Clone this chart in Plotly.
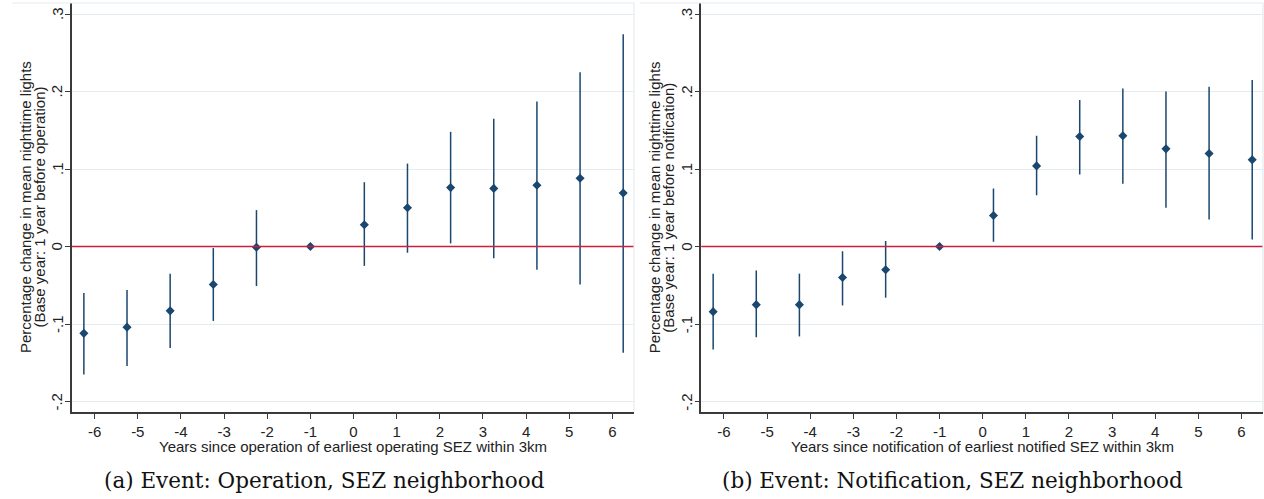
import plotly.graph_objects as go

# Event-time positions (coefficients are drawn slightly offset from each tick)
event_x = [-6.25, -5.25, -4.25, -3.25, -2.25, -1, 0.25, 1.25, 2.25, 3.25, 4.25, 5.25, 6.25]

# (a) Operation event
op_coef = [-0.112, -0.104, -0.083, -0.049, -0.001, 0.0, 0.028, 0.050, 0.076, 0.075, 0.079, 0.088, 0.069]
op_lo = [-0.165, -0.154, -0.131, -0.096, -0.051, 0.0, -0.025, -0.008, 0.004, -0.015, -0.030, -0.049, -0.137]
op_hi = [-0.060, -0.056, -0.035, -0.002, 0.047, 0.0, 0.083, 0.107, 0.148, 0.165, 0.187, 0.225, 0.274]

# (b) Notification event
nt_coef = [-0.084, -0.075, -0.075, -0.040, -0.030, 0.0, 0.040, 0.104, 0.142, 0.143, 0.126, 0.120, 0.112]
nt_lo = [-0.133, -0.117, -0.116, -0.076, -0.066, 0.0, 0.006, 0.066, 0.093, 0.081, 0.050, 0.035, 0.009]
nt_hi = [-0.035, -0.031, -0.035, -0.006, 0.007, 0.0, 0.075, 0.143, 0.189, 0.204, 0.200, 0.206, 0.215]

x_ticks = [-6, -5, -4, -3, -2, -1, 0, 1, 2, 3, 4, 5, 6]
x_tick_text = ["-6", "-5", "-4", "-3", "-2", "-1", "0", "1", "2", "3", "4", "5", "6"]
y_ticks = [0.3, 0.2, 0.1, 0.0, -0.1, -0.2]
y_tick_text = [".3", ".2", ".1", "0", "-.1", "-.2"]

x_titles = [
    "Years since operation of earliest operating SEZ within 3km",
    "Years since notification of earliest notified SEZ within 3km",
]
y_title_line1 = "Percentage change in mean nighttime lights"
y_title_line2 = [
    "(Base year: 1 year before operation)",
    "(Base year: 1 year before notification)",
]
captions = [
    "(a) Event: Operation, SEZ neighborhood",
    "(b) Event: Notification, SEZ neighborhood",
]

W, H = 1264, 499
NAVY = "#1a476f"
GRID = "#e4ecef"
AXIS = "#3a3a3a"
ZERO = "#cc1f3d"
TEXT = "#222"
FONT = "Liberation Sans, Arial, sans-serif"
FS = 15

# plot-area pixel geometry
px_left = [(72, 634), (701.3, 1263)]
py_top, py_bot = 3, 412
x_range = [-6.525, 6.5]
y_range = [-0.2135, 0.3142]


def xp(px):
    return px / W


def yp(py):
    return (H - py) / H


fig = go.Figure()

panels = [(op_coef, op_lo, op_hi), (nt_coef, nt_lo, nt_hi)]
for i, (coef, lo, hi) in enumerate(panels):
    sfx = "" if i == 0 else "2"
    plus = [h - c for h, c in zip(hi, coef)]
    minus = [c - l for c, l in zip(coef, lo)]
    fig.add_trace(go.Scatter(
        x=event_x, y=coef, mode="markers",
        marker=dict(symbol="diamond", size=7, color=NAVY, line=dict(width=0)),
        error_y=dict(type="data", symmetric=False, array=plus, arrayminus=minus,
                     color=NAVY, thickness=1.5, width=0),
        xaxis="x" + sfx, yaxis="y" + sfx, showlegend=False,
    ))

layout = dict(
    width=W, height=H,
    margin=dict(l=0, r=0, t=0, b=0),
    paper_bgcolor="white", plot_bgcolor="white",
    font=dict(family=FONT, size=FS, color=TEXT),
)
annotations = []
shapes = []
for i in range(2):
    sfx = "" if i == 0 else "2"
    l, r = px_left[i]
    layout["xaxis" + sfx] = dict(
        domain=[xp(l), xp(r)], range=x_range, anchor="y" + sfx,
        tickvals=x_ticks, ticktext=x_tick_text,
        ticks="outside", ticklen=5, tickwidth=1.2, tickcolor=AXIS,
        showline=True, linecolor=AXIS, linewidth=1.5, showgrid=False, zeroline=False,
        tickfont=dict(family=FONT, size=FS, color=TEXT),
    )
    layout["yaxis" + sfx] = dict(
        domain=[yp(py_bot), yp(py_top)], range=y_range, anchor="x" + sfx,
        tickvals=y_ticks, showticklabels=False,
        ticks="outside", ticklen=5, tickwidth=1.2, tickcolor=AXIS,
        showline=True, linecolor=AXIS, linewidth=1.5,
        showgrid=True, gridcolor=GRID, gridwidth=1, zeroline=False,
    )
    # rotated y tick labels, placed close to the axis
    for v, t in zip(y_ticks, y_tick_text):
        annotations.append(dict(text=t, xref="paper", yref="y" + sfx,
                                x=xp(l - 15), y=v, xanchor="center", yanchor="middle",
                                textangle=-90, showarrow=False,
                                font=dict(family=FONT, size=FS, color=TEXT)))
    # red reference line at zero
    shapes.append(dict(type="line", xref="x" + sfx + " domain", yref="y" + sfx,
                       x0=0, x1=1, y0=0, y1=0, line=dict(color=ZERO, width=1.3),
                       layer="above"))
    # light frame of the panel region
    top_start = 12 if i == 0 else 640
    shapes.append(dict(type="line", xref="paper", yref="paper",
                       x0=xp(top_start), x1=xp(r), y0=yp(py_top), y1=yp(py_top),
                       line=dict(color=GRID, width=1.2)))
    shapes.append(dict(type="line", xref="paper", yref="paper",
                       x0=xp(r), x1=xp(r), y0=yp(py_top), y1=yp(py_bot),
                       line=dict(color=GRID, width=1.2)))
    # axis titles
    annotations.append(dict(text=x_titles[i], xref="paper", yref="paper",
                            x=xp((l + r) / 2), y=yp(446), xanchor="center", yanchor="middle",
                            showarrow=False, font=dict(family=FONT, size=FS, color=TEXT)))
    mid_y = yp((py_top + py_bot) / 2)
    annotations.append(dict(text=y_title_line1, xref="paper", yref="paper",
                            x=xp(l - 46.5), y=mid_y, xanchor="center", yanchor="middle",
                            textangle=-90, showarrow=False,
                            font=dict(family=FONT, size=FS, color=TEXT)))
    annotations.append(dict(text=y_title_line2[i], xref="paper", yref="paper",
                            x=xp(l - 33), y=mid_y, xanchor="center", yanchor="middle",
                            textangle=-90, showarrow=False,
                            font=dict(family=FONT, size=FS, color=TEXT)))
    # sub-figure caption
    cap_center = 324 if i == 0 else 952
    annotations.append(dict(text=captions[i], xref="paper", yref="paper",
                            x=xp(cap_center), y=yp(480), xanchor="center", yanchor="middle",
                            showarrow=False,
                            font=dict(family="DejaVu Serif, serif", size=21.5, color="#111")))

layout["annotations"] = annotations
layout["shapes"] = shapes
fig.update_layout(**layout)
fig.write_html("out.html")
